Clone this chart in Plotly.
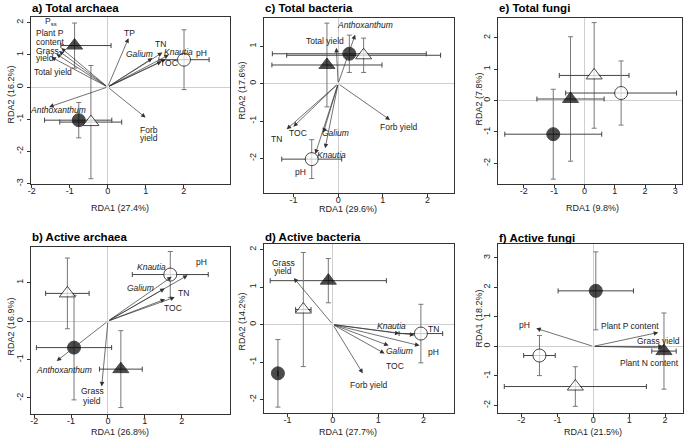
import plotly.graph_objects as go

W, H = 685, 441

# ---------------- data ----------------
PANELS = ["a", "c", "e", "b", "d", "f"]
TITLES = {"a": "a) Total archaea", "c": "c) Total bacteria", "e": "e) Total fungi",
          "b": "b) Active archaea", "d": "d) Active bacteria", "f": "f) Active fungi"}
XTITLES = {"a": "RDA1 (27.4%)", "c": "RDA1 (29.6%)", "e": "RDA1 (9.8%)",
           "b": "RDA1 (26.8%)", "d": "RDA1 (27.7%)", "f": "RDA1 (21.5%)"}
YTITLES = {"a": "RDA2 (16.2%)", "c": "RDA2 (17.6%)", "e": "RDA2 (7.8%)",
           "b": "RDA2 (16.9%)", "d": "RDA2 (14.2%)", "f": "RDA1 (18.2%)"}
XTICKS = {"a": [-2, -1, 0, 1, 2], "c": [-1, 0, 1, 2], "e": [-2, -1, 0, 1, 2, 3],
          "b": [-2, -1, 0, 1, 2], "d": [-1, 0, 1, 2], "f": [-2, -1, 0, 1, 2]}
YTICKS = {"a": [-3, -2, -1, 0, 1, 2], "c": [-2, -1, 0, 1], "e": [-2, -1, 0, 1, 2],
          "b": [-2, -1, 0, 1], "d": [-2, -1, 0, 1, 2], "f": [-2, -1, 0, 1, 2, 3]}

# group order: filled triangle, filled circle, open triangle, open circle
A_X = [-0.87, -0.76, -0.44, 2.01]
A_Y = [1.29, -1.03, -1.09, 0.85]
A_EXM = [0.36, 0.90, 0.82, 0.66]
A_EXP = [0.96, 0.87, 0.81, 0.66]
A_EY = [0.70, 0.55, 1.76, 0.93]

C_X = [-0.25, 0.25, 0.57, -0.59]
C_Y = [0.50, 0.80, 0.76, -2.02]
C_EXM = [1.23, 1.72, 1.72, 0.67]
C_EXP = [1.23, 1.72, 1.72, 0.67]
C_EY = [1.12, 0.50, 0.46, 0.52]

E_X = [-0.46, -1.03, 0.32, 1.21]
E_Y = [0.05, -1.07, 0.80, 0.24]
E_EXM = [1.11, 1.60, 1.15, 1.83]
E_EXP = [1.11, 1.60, 1.15, 1.83]
E_EY = [1.98, 1.43, 1.68, 1.02]

B_X = [0.35, -0.92, -1.10, 1.69]
B_Y = [-1.25, -0.69, 0.72, 1.21]
B_EXM = [0.58, 1.02, 0.59, 1.03]
B_EXP = [0.58, 1.02, 0.59, 1.03]
B_EY = [1.00, 1.36, 0.92, 0.60]

D_X = [-0.10, -1.21, -0.65, 1.94]
D_Y = [1.17, -1.30, 0.40, -0.24]
D_EXM = [1.28, 0.0, 0.17, 0.48]
D_EXP = [1.28, 0.0, 0.17, 0.48]
D_EY = [0.59, 0.90, 1.52, 0.78]

F_X = [1.97, 0.07, -0.50, -1.50]
F_Y = [-0.16, 1.88, -1.36, -0.31]
F_EXM = [0.34, 1.05, 1.98, 0.44]
F_EXP = [0.34, 1.05, 1.98, 0.44]
F_EY = [1.29, 1.32, 0.67, 0.68]

# environmental / plant vectors (arrow tips)
A_VEC = ["Pss", "Plant P content", "Grass yield", "Total yield", "TP", "Galium", "TN",
         "Knautia", "pH", "TOC", "Anthoxanthum", "Forb yield"]
A_VX = [-1.22, -1.28, -1.35, -1.48, 0.55, 1.18, 1.44, 1.61, 1.53, 1.42, -1.54, 1.00]
A_VY = [1.21, 1.12, 1.03, 0.93, 1.52, 0.90, 1.07, 1.00, 0.87, 0.79, -0.62, -0.95]

C_VEC = ["Anthoxanthum", "Total yield", "TN", "TOC", "Galium", "Knautia", "pH", "Forb yield"]
C_VX = [0.38, -0.04, -1.15, -1.00, -0.33, -0.29, -0.51, 1.16]
C_VY = [1.31, 0.96, -1.22, -1.15, -1.31, -1.73, -1.88, -0.97]

B_VEC = ["Anthoxanthum", "Grass yield", "Galium", "Knautia", "pH", "TN", "TOC"]
B_VX = [-1.39, -0.17, 1.54, 1.73, 2.16, 1.81, 1.55]
B_VY = [-1.04, -1.70, 0.85, 1.15, 1.19, 0.62, 0.57]

D_VEC = ["Grass yield", "Forb yield", "Knautia", "TN", "pH", "Galium", "TOC"]
D_VX = [-0.86, 0.66, 1.47, 1.80, 1.91, 1.23, 1.14]
D_VY = [1.24, -1.30, -0.24, -0.28, -0.56, -0.56, -0.77]

F_VEC = ["pH", "Plant P content", "Grass yield", "Plant N content"]
F_VX = [-1.59, 1.81, 1.94, 1.94]
F_VY = [0.61, 0.47, 0.00, -0.05]

# label text lines and their anchor points (data units)
A_LAB = ["P<sub>ss</sub>", "Plant P", "content", "Grass", "yield", "Total yield", "TP", "<i>Galium</i>",
         "TN", "<i>Knautia</i>", "pH", "TOC", "<i>Anthoxanthum</i>", "Forb", "yield"]
A_LX = [-1.48, -1.95, -1.95, -1.94, -1.94, -1.99, 0.57, 0.85, 1.40, 1.86, 2.47, 1.61, -1.31, 1.09, 1.09]
A_LY = [2.05, 1.68, 1.40, 1.12, 0.89, 0.46, 1.69, 1.02, 1.34, 1.10, 1.05, 0.76, -0.72, -1.34, -1.57]
A_LANCH = ["center", "left", "left", "left", "left", "left"] + ["center"] * 9

C_LAB = ["<i>Anthoxanthum</i>", "Total yield", "TN", "TOC", "<i>Galium</i>", "<i>Knautia</i>", "pH", "Forb yield"]
C_LX = [0.60, -0.29, -1.37, -0.89, -0.05, -0.14, -0.83, 1.37]
C_LY = [1.56, 1.14, -1.47, -1.31, -1.31, -1.90, -2.36, -1.17]

B_LAB = ["<i>Anthoxanthum</i>", "Grass", "yield", "<i>Galium</i>", "<i>Knautia</i>", "pH", "TN", "TOC"]
B_LX = [-1.19, -0.42, -0.42, 0.88, 1.19, 2.54, 2.05, 1.76]
B_LY = [-1.27, -1.83, -2.07, 0.85, 1.41, 1.54, 0.72, 0.35]

D_LAB = ["Grass", "yield", "Forb yield", "<i>Knautia</i>", "TN", "pH", "<i>Galium</i>", "TOC"]
D_LX = [-1.09, -1.09, 0.80, 1.29, 2.21, 2.21, 1.47, 1.36]
D_LY = [1.64, 1.42, -1.61, -0.03, -0.11, -0.72, -0.71, -1.10]

F_LAB = ["pH", "Plant P content", "Grass yield", "Plant N content"]
F_LX = [-1.93, 1.02, 1.81, 1.56]
F_LY = [0.74, 0.70, 0.18, -0.57]

GROUPS = {
    "a": (A_X, A_Y, A_EXM, A_EXP, A_EY),
    "c": (C_X, C_Y, C_EXM, C_EXP, C_EY),
    "e": (E_X, E_Y, E_EXM, E_EXP, E_EY),
    "b": (B_X, B_Y, B_EXM, B_EXP, B_EY),
    "d": (D_X, D_Y, D_EXM, D_EXP, D_EY),
    "f": (F_X, F_Y, F_EXM, F_EXP, F_EY),
}
VECTORS = {
    "a": (A_VX, A_VY, A_LAB, A_LX, A_LY, A_LANCH),
    "c": (C_VX, C_VY, C_LAB, C_LX, C_LY, None),
    "b": (B_VX, B_VY, B_LAB, B_LX, B_LY, None),
    "d": (D_VX, D_VY, D_LAB, D_LX, D_LY, None),
    "f": (F_VX, F_VY, F_LAB, F_LX, F_LY, None),
}

# ---------------- layout / style ----------------
# panel frame in pixels: left, right, top, bottom
FRAME = {"a": (28, 228, 17, 185), "c": (262, 453, 18, 194), "e": (497, 682, 18, 185),
         "b": (28, 228, 248, 416), "d": (262, 453, 245, 415), "f": (497, 683, 245, 415)}
XRANGE = {"a": [-2.02, 3.22], "c": [-1.66, 2.59], "e": [-2.86, 3.22],
          "b": [-2.09, 3.31], "d": [-1.52, 2.67], "f": [-2.66, 2.50]}
YRANGE = {"a": [-3.02, 2.18], "c": [-2.93, 1.76], "e": [-2.66, 2.63],
          "b": [-2.42, 1.93], "d": [-2.36, 2.15], "f": [-2.26, 3.47]}
TITLE_POS = {"a": (27, 8), "c": (261, 8), "e": (496, 8), "b": (27, 238), "d": (261, 238), "f": (496, 239)}
XT_POS = {"a": (118, 209), "c": (347, 210), "e": (592, 209), "b": (118, 434), "d": (347, 434), "f": (593, 434)}
YT_POS = {"a": (8, 95), "c": (240, 91), "e": (478, 99), "b": (8, 328), "d": (240, 323), "f": (478, 320)}

SYMBOLS = ["triangle-up", "circle", "triangle-up", "circle"]
FILLS = ["black", "black", "white", "white"]
SIZES = [14, 13, 14, 13]
FONT = "Liberation Sans, Arial, Helvetica, sans-serif"

fig = go.Figure()
annotations = []
layout = {}

for i, p in enumerate(PANELS, start=1):
    sfx = "" if i == 1 else str(i)
    xr, yr = "x" + sfx, "y" + sfx
    l, r, t, b = FRAME[p]
    common = dict(showgrid=False, zeroline=True, zerolinecolor="#cfcfcf", zerolinewidth=1,
                  showline=True, linecolor="#333", linewidth=1, mirror=True,
                  ticks="outside", ticklen=3, tickcolor="#333", tickwidth=1,
                  tickfont=dict(size=9, color="#222", family=FONT))
    layout["xaxis" + sfx] = dict(common, domain=[l / W, r / W], range=XRANGE[p], anchor=yr,
                                 tickvals=XTICKS[p], ticktext=[str(v) for v in XTICKS[p]],
                                 ticklabelstandoff=-5)
    layout["yaxis" + sfx] = dict(common, domain=[1 - b / H, 1 - t / H], range=YRANGE[p], anchor=xr,
                                 tickvals=YTICKS[p], ticktext=[str(v) for v in YTICKS[p]], tickangle=-90)

    gx, gy, exm, exp_, ey = GROUPS[p]
    fig.add_trace(go.Scatter(
        x=gx, y=gy, mode="markers", xaxis=xr, yaxis=yr, showlegend=False, hoverinfo="skip",
        marker=dict(symbol=SYMBOLS, color=FILLS, size=SIZES, line=dict(color="black", width=1)),
        error_x=dict(type="data", symmetric=False, array=exp_, arrayminus=exm,
                     color="#444", thickness=1, width=2.5),
        error_y=dict(type="data", array=ey, color="#777", thickness=1, width=2.5),
    ))

    if p in VECTORS:
        vx, vy, lab, lx, ly, lanch = VECTORS[p]
        for k in range(len(vx)):
            annotations.append(dict(x=vx[k], y=vy[k], ax=0, ay=0, xref=xr, yref=yr, axref=xr, ayref=yr,
                                    text="", showarrow=True, arrowhead=2, arrowsize=1.3,
                                    arrowwidth=0.7, arrowcolor="#333", standoff=0, startstandoff=0))
        for k in range(len(lab)):
            anch = lanch[k] if lanch else "center"
            annotations.append(dict(x=lx[k], y=ly[k], xref=xr, yref=yr, text=lab[k], showarrow=False,
                                    xanchor=anch, yanchor="middle", align=anch if anch != "center" else "center",
                                    font=dict(size=8.5, color="#222", family=FONT)))

    tx, ty = TITLE_POS[p]
    annotations.append(dict(x=tx / W, y=1 - ty / H, xref="paper", yref="paper", text="<b>" + TITLES[p] + "</b>",
                            showarrow=False, xanchor="left", yanchor="middle",
                            font=dict(size=11.5, color="black", family=FONT)))
    xx, xy = XT_POS[p]
    annotations.append(dict(x=xx / W, y=1 - xy / H, xref="paper", yref="paper", text=XTITLES[p],
                            showarrow=False, xanchor="center", yanchor="middle",
                            font=dict(size=9, color="#222", family=FONT)))
    yx, yy = YT_POS[p]
    annotations.append(dict(x=yx / W, y=1 - yy / H, xref="paper", yref="paper", text=YTITLES[p],
                            showarrow=False, xanchor="center", yanchor="middle", textangle=-90,
                            font=dict(size=9, color="#222", family=FONT)))

fig.update_layout(width=W, height=H, margin=dict(l=0, r=0, t=0, b=0),
                  plot_bgcolor="white", paper_bgcolor="white", showlegend=False,
                  font=dict(family=FONT), annotations=annotations, **layout)

fig.write_html("out.html", config={"displayModeBar": False},
               post_script="document.body.style.margin='0';document.body.style.overflow='hidden';")
